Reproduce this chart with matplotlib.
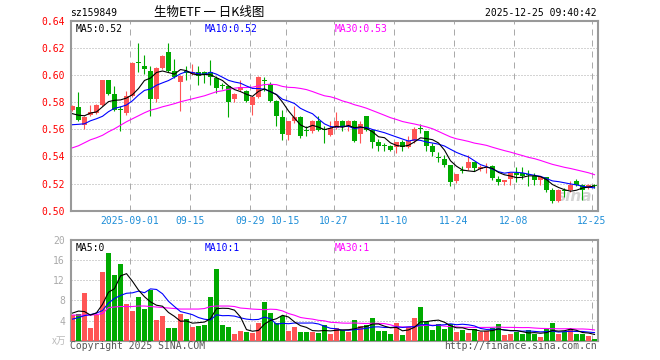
import matplotlib
matplotlib.use('Agg')
import matplotlib.pyplot as plt
import numpy as np
import pandas as pd

# ---------------- data ----------------
opens = [0.5743, 0.5768, 0.5633, 0.5704, 0.5719, 0.5778, 0.5963, 0.5859, 0.5750, 0.5719,
         0.5847, 0.6095, 0.6067, 0.6030, 0.5827, 0.6054, 0.6170, 0.6027, 0.5952, 0.6027,
         0.6010, 0.6019, 0.6019, 0.6019, 0.5978, 0.5929, 0.5916, 0.5823, 0.5887, 0.5884,
         0.5781, 0.5835, 0.5960, 0.5936, 0.5805, 0.5688, 0.5560, 0.5658, 0.5688, 0.5598,
         0.5585, 0.5658, 0.5600, 0.5560, 0.5609, 0.5663, 0.5615, 0.5663, 0.5567, 0.5695,
         0.5592, 0.5503, 0.5482, 0.5479, 0.5469, 0.5503, 0.5469, 0.5511, 0.5605, 0.5585,
         0.5474, 0.5396, 0.5383, 0.5339, 0.5216, 0.5298, 0.5315, 0.5356, 0.5307, 0.5312,
         0.5332, 0.5234, 0.5209, 0.5234, 0.5282, 0.5278, 0.5268, 0.5258, 0.5228, 0.5248,
         0.5155, 0.5069, 0.5150, 0.5155, 0.5216, 0.5192, 0.5167, 0.5192]
highs = [0.5780, 0.5876, 0.5700, 0.5780, 0.5785, 0.5965, 0.5965, 0.5921, 0.5770, 0.5884,
         0.6095, 0.6237, 0.6150, 0.6070, 0.6060, 0.6150, 0.6237, 0.6120, 0.6000, 0.6065,
         0.6083, 0.6069, 0.6030, 0.6108, 0.5995, 0.5940, 0.5920, 0.5870, 0.5965, 0.5890,
         0.5845, 0.5990, 0.5988, 0.5950, 0.5815, 0.5744, 0.5665, 0.5769, 0.5700, 0.5626,
         0.5670, 0.5695, 0.5621, 0.5658, 0.5724, 0.5670, 0.5670, 0.5670, 0.5663, 0.5700,
         0.5600, 0.5528, 0.5499, 0.5486, 0.5503, 0.5523, 0.5548, 0.5617, 0.5641, 0.5585,
         0.5499, 0.5430, 0.5413, 0.5339, 0.5273, 0.5330, 0.5413, 0.5360, 0.5339, 0.5354,
         0.5340, 0.5258, 0.5230, 0.5280, 0.5319, 0.5319, 0.5302, 0.5282, 0.5250, 0.5250,
         0.5167, 0.5160, 0.5167, 0.5216, 0.5236, 0.5195, 0.5200, 0.5195]
lows = [0.5735, 0.5660, 0.5602, 0.5700, 0.5715, 0.5770, 0.5850, 0.5735, 0.5587, 0.5705,
        0.5840, 0.6019, 0.6010, 0.5700, 0.5800, 0.6045, 0.6020, 0.5980, 0.5733, 0.5960,
        0.6000, 0.5929, 0.5941, 0.5929, 0.5867, 0.5900, 0.5690, 0.5800, 0.5880, 0.5800,
        0.5707, 0.5830, 0.5880, 0.5800, 0.5621, 0.5523, 0.5523, 0.5650, 0.5538, 0.5553,
        0.5575, 0.5585, 0.5499, 0.5553, 0.5600, 0.5585, 0.5590, 0.5505, 0.5499, 0.5590,
        0.5462, 0.5437, 0.5437, 0.5437, 0.5425, 0.5437, 0.5462, 0.5499, 0.5573, 0.5437,
        0.5405, 0.5356, 0.5322, 0.5186, 0.5204, 0.5280, 0.5302, 0.5290, 0.5290, 0.5282,
        0.5228, 0.5192, 0.5192, 0.5192, 0.5209, 0.5234, 0.5184, 0.5192, 0.5192, 0.5142,
        0.5061, 0.5065, 0.5105, 0.5142, 0.5185, 0.5081, 0.5160, 0.5170]
closes = [0.5773, 0.5669, 0.5694, 0.5726, 0.5778, 0.5963, 0.5859, 0.5743, 0.5740, 0.5847,
          0.6087, 0.6085, 0.6041, 0.5827, 0.6054, 0.6141, 0.6027, 0.5985, 0.5995, 0.6012,
          0.6020, 0.5990, 0.6002, 0.5985, 0.5904, 0.5916, 0.5798, 0.5862, 0.5909, 0.5805,
          0.5840, 0.5982, 0.5953, 0.5805, 0.5695, 0.5567, 0.5658, 0.5688, 0.5553, 0.5590,
          0.5658, 0.5592, 0.5595, 0.5609, 0.5658, 0.5621, 0.5660, 0.5511, 0.5641, 0.5597,
          0.5503, 0.5474, 0.5477, 0.5450, 0.5503, 0.5469, 0.5511, 0.5604, 0.5600, 0.5474,
          0.5430, 0.5390, 0.5339, 0.5209, 0.5273, 0.5292, 0.5356, 0.5315, 0.5322, 0.5326,
          0.5241, 0.5209, 0.5228, 0.5278, 0.5265, 0.5253, 0.5263, 0.5228, 0.5248, 0.5155,
          0.5074, 0.5155, 0.5145, 0.5192, 0.5192, 0.5155, 0.5192, 0.5182]
volumes = [5.1, 5.4, 9.5, 2.5, 5.2, 13.6, 17.4, 13.0, 15.2, 7.4,
           6.0, 8.7, 6.4, 10.1, 4.1, 5.0, 2.5, 2.5, 5.3, 4.4,
           2.8, 3.0, 3.1, 8.7, 14.3, 3.2, 2.8, 1.4, 1.9, 1.8,
           1.6, 3.6, 7.7, 5.5, 3.5, 5.0, 1.9, 2.8, 1.8, 1.8,
           1.8, 1.6, 3.2, 1.4, 2.5, 2.1, 1.8, 4.1, 3.0, 3.2,
           4.5, 1.9, 1.9, 1.4, 3.6, 1.1, 2.8, 4.5, 6.8, 3.8,
           2.1, 3.3, 2.4, 3.3, 1.8, 2.1, 1.6, 2.3, 1.8, 1.9,
           2.5, 3.3, 1.1, 1.4, 1.8, 1.4, 2.1, 1.4, 0.8, 2.4,
           3.6, 1.4, 1.8, 2.3, 1.3, 1.4, 0.9, 0.4]

# moving-average values visible at the left edge (window reaches before the chart)
price_ma5_head = [0.5715, 0.5704, 0.5700, 0.5720]
price_ma10_head = [0.5634, 0.5637, 0.5641, 0.5663, 0.5678, 0.5696, 0.5730, 0.5755, 0.5765]
price_ma30_head = [0.5464, 0.5479, 0.5501, 0.5523, 0.5538, 0.5556, 0.5582, 0.5604, 0.5630,
                   0.5656, 0.5678, 0.5700, 0.5722, 0.5741, 0.5752, 0.5766, 0.5777, 0.5789,
                   0.5803, 0.5814, 0.5825, 0.5836, 0.5847, 0.5862, 0.5877, 0.5884, 0.5895,
                   0.5903, 0.5908]
vol_ma5_head = [5.5, 5.9, 5.8, 5.1]
vol_ma10_head = [4.3, 4.6, 5.0, 5.2, 5.5, 6.0, 7.5, 8.4, 9.0]
vol_ma30_head = [5.1, 5.1, 5.1, 5.1, 5.2, 5.4, 6.6, 6.7, 6.8, 6.8, 6.8, 6.9, 6.9, 6.8,
                 6.7, 6.6, 6.5, 6.4, 6.3, 6.3, 6.3, 6.3, 6.4, 6.8, 6.9, 6.9, 6.9, 6.8, 6.5]

date_ticks = [10, 20, 30, 36, 44, 54, 64, 74, 87]
date_labels = ['2025-09-01', '09-15', '09-29', '10-15', '10-27', '11-10', '11-24', '12-08', '12-25']
price_ticks = [0.50, 0.52, 0.54, 0.56, 0.58, 0.60, 0.62, 0.64]
vol_ticks = [4, 8, 12, 16, 20]
price_ma_labels = ['MA5:0.52', 'MA10:0.52', 'MA30:0.53']
vol_ma_labels = ['MA5:0', 'MA10:1', 'MA30:1']

title = '生物ETF 一 日K线图'
code = 'sz159849'
stamp = '2025-12-25 09:40:42'

# ---------------- styling ----------------
RED = '#ff5555'
GREEN = '#00aa00'
GRID = '#aaaaaa'
FRAME = '#999999'
MONO = 'DejaVu Sans Mono'
FS = 7
MA_COLORS = ['#000000', '#0000ff', '#ff00ff']


def moving_avg(values, n, head):
    s = pd.Series(values, dtype=float).rolling(n).mean().to_numpy()
    s[:len(head)] = head
    return s


o = np.array(opens); h = np.array(highs); l = np.array(lows); c = np.array(closes)
v = np.array(volumes)
x = np.arange(len(c))
up = c >= o
colors = np.where(up, RED, GREEN)

W, H = 660, 360
fig = plt.figure(figsize=(W / 100, H / 100), dpi=100)
fig.patch.set_facecolor('white')


def rect(left, top, right, bottom):
    return [left / W, 1 - bottom / H, (right - left) / W, (bottom - top) / H]


ax = fig.add_axes(rect(70.5, 20.7, 597.5, 210.8))
axv = fig.add_axes(rect(70.5, 240.0, 597.5, 340.8))

xlim = (-0.333, 87.5)
grid_x = [t - 0.42 for t in date_ticks]

for a in (ax, axv):
    a.set_xlim(*xlim)
    for sp in a.spines.values():
        sp.set_color(FRAME)
        sp.set_linewidth(1.5)
    a.tick_params(length=0)
    a.set_facecolor('white')
    for gx in grid_x:
        a.axvline(gx, color=GRID, lw=0.72, linestyle=(0, (6, 5)), zorder=0)

# ---- price panel ----
ax.set_ylim(0.50, 0.64)
for yv in price_ticks[1:-1]:
    ax.axhline(yv, color=GRID, lw=0.72, linestyle=(0, (1, 2)), zorder=0)
ax.set_yticks(price_ticks)
ax.set_yticklabels(['%.2f' % t for t in price_ticks], fontsize=FS, family=MONO, color='#ff0000')
ax.tick_params(axis='y', pad=4)
ax.set_xticks(grid_x)
ax.set_xticklabels(date_labels, fontsize=FS, family=MONO, color='#1e8ed8')
ax.tick_params(axis='x', pad=4)

body_w = 5 / 6
ax.vlines(x, l, h, colors=colors, lw=0.8, zorder=2)
body_h = np.maximum(np.abs(c - o), 0.0008)
body_b = np.minimum(c, o)
ax.bar(x, body_h, bottom=body_b, width=body_w, color=colors, linewidth=0, zorder=3)

pm5 = moving_avg(closes, 5, price_ma5_head)
pm10 = moving_avg(closes, 10, price_ma10_head)
pm30 = moving_avg(closes, 30, price_ma30_head)
ax.plot(x, pm30, color=MA_COLORS[2], lw=0.8, zorder=4)
ax.plot(x, pm10, color=MA_COLORS[1], lw=0.8, zorder=5)
ax.plot(x, pm5, color=MA_COLORS[0], lw=0.8, zorder=6)

label_x = [5 / 527, 134.5 / 527, 264.5 / 527]
for lx, s, col in zip(label_x, price_ma_labels, MA_COLORS):
    ax.text(lx, 0.985, s, transform=ax.transAxes, ha='left', va='top',
            fontsize=FS, family=MONO, color=col)
ax.text(0.99, 0.035, 'sina', transform=ax.transAxes, ha='right', va='bottom', fontsize=11,
        style='italic', weight='bold', color='#d4d4d4', zorder=1)

# ---- volume panel ----
axv.set_ylim(0, 20)
for yv in vol_ticks[:-1]:
    axv.axhline(yv, color=GRID, lw=0.72, linestyle=(0, (1, 2)), zorder=0)
axv.set_yticks(vol_ticks)
axv.set_yticklabels([str(t) for t in vol_ticks], fontsize=FS, family=MONO, color='#aaaaaa')
axv.tick_params(axis='y', pad=4)
axv.set_xticks([])
axv.bar(x, v, width=body_w, color=colors, linewidth=0, zorder=3)

vm5 = moving_avg(volumes, 5, vol_ma5_head)
vm10 = moving_avg(volumes, 10, vol_ma10_head)
vm30 = moving_avg(volumes, 30, vol_ma30_head)
axv.plot(x, vm30, color=MA_COLORS[2], lw=0.8, zorder=4)
axv.plot(x, vm10, color=MA_COLORS[1], lw=0.8, zorder=5)
axv.plot(x, vm5, color=MA_COLORS[0], lw=0.8, zorder=6)

for lx, s, col in zip(label_x, vol_ma_labels, MA_COLORS):
    axv.text(lx, 0.97, s, transform=axv.transAxes, ha='left', va='top',
             fontsize=FS, family=MONO, color=col)

# ---- figure texts ----
def ftext(px, py, s, **kw):
    fig.text(px / W, 1 - py / H, s, **kw)

ftext(70, 13, code, ha='left', va='center', fontsize=FS, family=MONO, color='black')
ftext(209, 12.5, title, ha='center', va='center', fontsize=9,
      family=['Noto Sans CJK SC', 'DejaVu Sans'], color='black')
ftext(597, 13, stamp, ha='right', va='center', fontsize=FS, family=MONO, color='black')
ftext(66, 341, 'x万', ha='right', va='center', fontsize=7,
      family=['Noto Sans CJK SC', 'DejaVu Sans'], color='#bbbbbb', style='italic')
ftext(70, 346, 'Copyright 2025 SINA.COM', ha='left', va='center', fontsize=FS, family=MONO,
      color='#555555')
ftext(597, 346, 'http://finance.sina.com.cn', ha='right', va='center', fontsize=FS, family=MONO,
      color='#555555')

fig.savefig('out.png', dpi=100, facecolor='white')
